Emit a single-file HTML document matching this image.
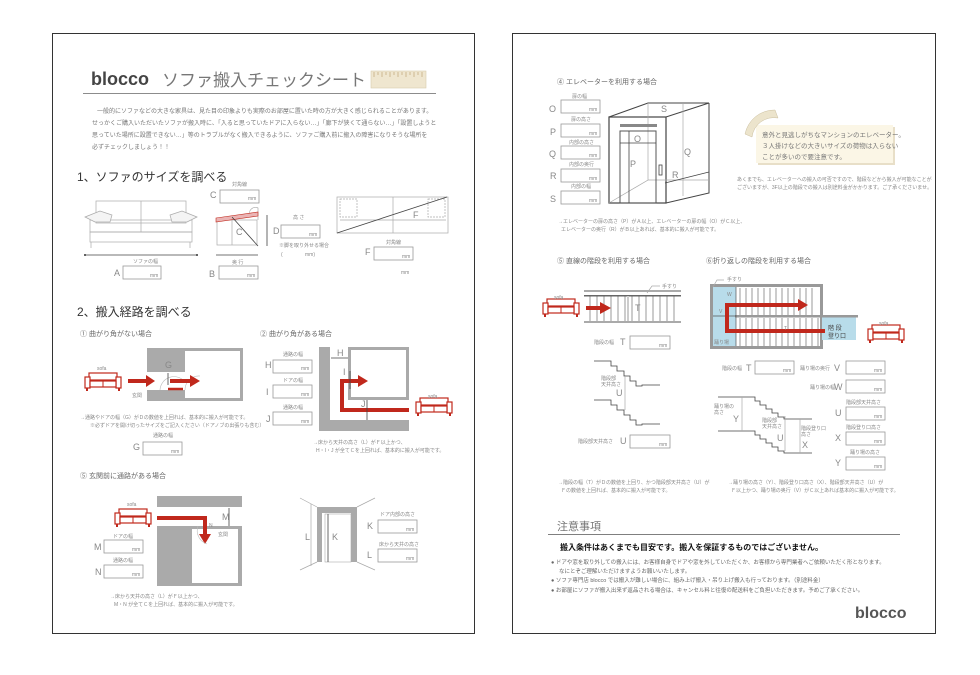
<!DOCTYPE html>
<html><head><meta charset="utf-8">
<style>
html,body{margin:0;padding:0;background:#fff;}
svg{display:block;font-family:"Liberation Sans","Noto Sans CJK JP",sans-serif;}
.t{fill:#777;font-size:6px;}
.s{fill:#888;font-size:5px;}
.l{fill:#888;font-size:9px;}
.h{fill:#333;font-size:12px;}
.sub{fill:#666;font-size:7px;}
.bx{fill:#fff;stroke:#999;stroke-width:0.8;}
.ln{stroke:#aaa;stroke-width:0.7;fill:none;}
.dk{stroke:#444;stroke-width:0.8;fill:none;}
.red{stroke:#c0281c;fill:none;stroke-width:4;}
</style></head><body>
<svg width="980" height="675" viewBox="0 0 980 675" xmlns="http://www.w3.org/2000/svg">
<defs>
<g id="sofa">
<rect x="4" y="0" width="28" height="7" fill="#fff" stroke="#c0281c" stroke-width="1.2"/>
<rect x="0" y="4" width="5" height="11" fill="#fff" stroke="#c0281c" stroke-width="1.2"/>
<rect x="31" y="4" width="5" height="11" fill="#fff" stroke="#c0281c" stroke-width="1.2"/>
<rect x="5" y="8" width="26" height="6" fill="#fff" stroke="#c0281c" stroke-width="1.2"/>
<line x1="18" y1="8" x2="18" y2="14" stroke="#c0281c" stroke-width="1"/>
<rect x="1" y="15" width="2" height="3" fill="#c0281c"/><rect x="33" y="15" width="2" height="3" fill="#c0281c"/>
</g>
</defs>

<rect x="52.5" y="33.5" width="422" height="600" fill="#fff" stroke="#333" stroke-width="1"/>
<rect x="512.5" y="33.5" width="423" height="600" fill="#fff" stroke="#333" stroke-width="1"/>

<!-- ===== LEFT PAGE ===== -->
<text x="91" y="85" font-size="18" font-weight="bold" fill="#444">blocco</text>
<text x="162" y="86" font-size="17" fill="#777">ソファ搬入チェックシート</text>
<rect x="371" y="71" width="55" height="17" fill="#efe6cf" stroke="#d8ccae" stroke-width="0.6"/>
<path d="M374 72v5M378 72v3M382 72v5M386 72v3M390 72v5M394 72v3M398 72v5M402 72v3M406 72v5M410 72v3M414 72v5M418 72v3M422 72v5" stroke="#b59a6a" stroke-width="0.6"/>
<line x1="83" y1="93.5" x2="436" y2="93.5" stroke="#666" stroke-width="0.8"/>
<text class="t" x="97" y="113">一般的にソファなどの大きな家具は、見た目の印象よりも実際のお部屋に置いた時の方が大きく感じられることがあります。</text>
<text class="t" x="92" y="125">せっかくご購入いただいたソファが搬入時に、「入ると思っていたドアに入らない…」「廊下が狭くて通らない…」「設置しようと</text>
<text class="t" x="92" y="137">思っていた場所に設置できない…」等のトラブルがなく搬入できるように、ソファご購入前に搬入の障害になりそうな場所を</text>
<text class="t" x="92" y="149">必ずチェックしましょう！！</text>

<text class="h" x="77" y="181">1、ソファのサイズを調べる</text>
<g class="ln">
<rect x="96" y="201" width="90" height="22"/><line x1="141" y1="201" x2="141" y2="232"/>
<rect x="90" y="220" width="102" height="12"/><rect x="90" y="232" width="102" height="10"/>
<path d="M85 217 L100 211 L112 215 L110 222 L95 222 Z" fill="#f4f4f4"/>
<path d="M197 217 L182 211 L170 215 L172 222 L187 222 Z" fill="#f4f4f4"/>
<line x1="91" y1="242" x2="91" y2="248"/><line x1="190" y1="242" x2="190" y2="248"/>
<rect x="217" y="220" width="40" height="25"/><line x1="232" y1="216" x2="232" y2="245"/>
<path d="M250 216 A6 6 0 0 1 258 208 V220"/>
</g>
<line x1="85" y1="255" x2="197" y2="255" class="dk"/><circle cx="85" cy="255" r="1" fill="#333"/><circle cx="197" cy="255" r="1" fill="#333"/>
<text class="s" x="133" y="263">ソファの幅</text>
<text class="l" x="114" y="276">A</text><rect class="bx" x="123" y="266" width="38" height="13"/><text class="s" x="150" y="277">mm</text>
<path d="M216 218 L258 212 L258 216 L216 222 Z" fill="#eab4b4" stroke="#c0281c" stroke-width="0.6"/>
<line x1="232" y1="217" x2="258" y2="246" class="dk"/>
<text class="l" x="236" y="235">C</text>
<line x1="216" y1="255" x2="258" y2="255" class="dk"/>
<line x1="267" y1="215" x2="267" y2="246" class="dk"/>
<text class="s" x="232" y="186">対角線</text>
<text class="l" x="210" y="198">C</text><rect class="bx" x="220" y="190" width="39" height="13"/><text class="s" x="248" y="200">mm</text>
<text class="s" x="232" y="264">奥 行</text>
<text class="l" x="209" y="277">B</text><rect class="bx" x="219" y="266" width="39" height="13"/><text class="s" x="247" y="277">mm</text>
<text class="s" x="293" y="219">高 さ</text>
<text class="l" x="273" y="234">D</text><rect class="bx" x="281" y="225" width="39" height="13"/><text class="s" x="309" y="236">mm</text>
<text class="s" x="279" y="247" font-size="4">※脚を取り外せる場合</text>
<text class="s" x="281" y="256">(</text><text class="s" x="305" y="256">mm)</text>
<g class="ln">
<rect x="337" y="197" width="111" height="36"/><line x1="393" y1="197" x2="393" y2="233"/>
<line x1="340" y1="220" x2="446" y2="220"/>
<rect x="340" y="199" width="17" height="18" stroke-dasharray="2 1"/><rect x="428" y="199" width="17" height="18" stroke-dasharray="2 1"/>
</g>
<line x1="337" y1="233" x2="447" y2="197" class="dk"/>
<text class="l" x="413" y="218">F</text>
<text class="s" x="386" y="244">対角線</text>
<text class="l" x="365" y="255">F</text><rect class="bx" x="374" y="247" width="39" height="13"/><text class="s" x="402" y="258">mm</text>
<text class="s" x="401" y="274">mm</text>

<text class="h" x="77" y="316">2、搬入経路を調べる</text>

<text class="sub" x="80" y="336">①  曲がり角がない場合</text>
<rect x="147" y="348" width="96" height="53" fill="#aaa"/>
<rect x="185" y="351" width="55" height="47" fill="#fff"/>
<rect x="147" y="372" width="38" height="18" fill="#fff"/>
<path d="M160 390 A14 14 0 0 1 185 382" stroke="#bbb" fill="none" stroke-width="0.6"/>
<path d="M185 390 A14 14 0 0 1 200 376" stroke="#bbb" fill="none" stroke-width="0.6"/>
<use href="#sofa" x="85" y="373"/>
<text class="s" x="97" y="370" font-size="6" fill="#999">sofa</text>
<path d="M128 381 H148" class="red"/><path d="M146 375 L155 381 L146 387Z" fill="#c0281c"/>
<path d="M170 381 H192" class="red"/><path d="M190 375 L200 381 L190 387Z" fill="#c0281c"/>
<path d="M168 389 H183" stroke="#c0281c" stroke-width="2.5"/>
<line x1="168" y1="373" x2="168" y2="385" class="dk"/>
<text class="l" x="165" y="368">G</text>
<text class="s" x="132" y="397">玄関</text>
<text class="s" x="80" y="419">→通路やドアの幅（G）がＤの数値を上回れば、基本的に搬入が可能です。</text>
<text class="s" x="90" y="427" fill="#c66" font-size="4">※必ずドアを開け切ったサイズをご記入ください（ドアノブの出張りも含む）</text>
<text class="s" x="153" y="437">通路の幅</text>
<text class="l" x="133" y="450">G</text><rect class="bx" x="143" y="442" width="39" height="13"/><text class="s" x="171" y="453">mm</text>

<text class="sub" x="260" y="336">②  曲がり角がある場合</text>
<rect x="319" y="347" width="90" height="84" fill="#aaa"/>
<rect x="330" y="347" width="79" height="73" fill="#fff"/>
<rect x="348" y="347" width="61" height="53" fill="#aaa"/>
<rect x="351" y="350" width="55" height="47" fill="#fff"/>
<path d="M409 410 H342 V381 H360" class="red"/><path d="M358 375 L368 381 L358 387Z" fill="#c0281c"/>
<line x1="331" y1="358" x2="348" y2="358" class="dk"/><line x1="350" y1="371" x2="350" y2="389" class="dk"/><line x1="367" y1="400" x2="367" y2="420" class="dk"/>
<text class="l" x="337" y="356">H</text><text class="l" x="343" y="375">I</text><text class="l" x="361" y="407">J</text>
<use href="#sofa" x="416" y="398"/><text class="s" x="428" y="398" font-size="6" fill="#999">sofa</text>
<text class="s" x="283" y="356">通路の幅</text>
<text class="l" x="265" y="368">H</text><rect class="bx" x="273" y="360" width="39" height="13"/><text class="s" x="301" y="370">mm</text>
<text class="s" x="283" y="382">ドアの幅</text>
<text class="l" x="266" y="395">I</text><rect class="bx" x="273" y="385" width="39" height="13"/><text class="s" x="301" y="396">mm</text>
<text class="s" x="283" y="409">通路の幅</text>
<text class="l" x="266" y="422">J</text><rect class="bx" x="273" y="412" width="39" height="13"/><text class="s" x="301" y="423">mm</text>
<text class="s" x="313" y="444" font-size="4.5">→床から天井の高さ（L）がＦ以上かつ、</text>
<text class="s" x="316" y="452" font-size="4.5">H・I・J が全てＣを上回れば、基本的に搬入が可能です。</text>

<text class="sub" x="80" y="478">⑤ 玄関前に通路がある場合</text>
<rect x="157" y="496" width="85" height="90" fill="#aaa"/>
<rect x="157" y="507" width="85" height="19" fill="#fff"/>
<rect x="192" y="529" width="46" height="54" fill="#fff"/>
<path d="M157 518 H205 V535" class="red"/><path d="M199 534 L205 544 L211 534Z" fill="#c0281c"/>
<path d="M198 526 A14 14 0 0 0 207 544" stroke="#bbb" fill="none" stroke-width="0.6"/>
<line x1="229" y1="508" x2="229" y2="526" class="dk"/>
<text class="l" x="222" y="520">M</text><text class="s" x="209" y="527" font-size="7">N</text><text class="s" x="218" y="536" font-size="4">玄関</text>
<use href="#sofa" x="115" y="509"/><text class="s" x="127" y="506" font-size="6" fill="#999">sofa</text>
<text class="s" x="113" y="538">ドアの幅</text>
<text class="l" x="94" y="550">M</text><rect class="bx" x="104" y="540" width="39" height="13"/><text class="s" x="132" y="551">mm</text>
<text class="s" x="113" y="562">通路の幅</text>
<text class="l" x="95" y="575">N</text><rect class="bx" x="104" y="565" width="39" height="13"/><text class="s" x="132" y="576">mm</text>
<text class="s" x="110" y="598" font-size="4.5">→床から天井の高さ（L）がＦ以上かつ、</text>
<text class="s" x="114" y="606" font-size="4.5">M・N が全てＣを上回れば、基本的に搬入が可能です。</text>

<g class="ln">
<path d="M300 498 L317 507 M375 498 L357 507 M300 570 L317 562 M375 570 L357 562"/>
<line x1="311" y1="504" x2="311" y2="566"/>
</g>
<rect x="317" y="507" width="40" height="55" fill="#aaa"/>
<rect x="322" y="513" width="29" height="49" fill="#fff"/>
<rect x="325" y="514" width="26" height="48" fill="#fff" stroke="#aaa" stroke-width="0.6"/>
<line x1="328" y1="514" x2="328" y2="562" class="dk"/>
<text class="l" x="305" y="540">L</text><text class="l" x="332" y="540">K</text>
<text class="s" x="380" y="516">ドア内部の高さ</text>
<text class="l" x="367" y="529">K</text><rect class="bx" x="378" y="520" width="39" height="13"/><text class="s" x="406" y="531">mm</text>
<text class="s" x="379" y="546">床から天井の高さ</text>
<text class="l" x="367" y="558">L</text><rect class="bx" x="378" y="549" width="39" height="13"/><text class="s" x="406" y="560">mm</text>

<!-- ===== RIGHT PAGE ===== -->
<text class="sub" x="557" y="84">④ エレベーターを利用する場合</text>
<g>
<text class="s" x="572" y="98">扉の幅</text><text class="l" x="549" y="112">O</text><rect class="bx" x="561" y="100" width="39" height="13"/><text class="s" x="589" y="111">mm</text>
<text class="s" x="571" y="121">扉の高さ</text><text class="l" x="550" y="135">P</text><rect class="bx" x="561" y="124" width="39" height="13"/><text class="s" x="589" y="135">mm</text>
<text class="s" x="569" y="144">内部の高さ</text><text class="l" x="549" y="157">Q</text><rect class="bx" x="561" y="146" width="39" height="13"/><text class="s" x="589" y="157">mm</text>
<text class="s" x="569" y="166">内部の奥行</text><text class="l" x="550" y="179">R</text><rect class="bx" x="561" y="169" width="39" height="13"/><text class="s" x="589" y="180">mm</text>
<text class="s" x="571" y="188">内部の幅</text><text class="l" x="550" y="202">S</text><rect class="bx" x="561" y="191" width="39" height="13"/><text class="s" x="589" y="202">mm</text>
</g>
<g>
<path d="M609 117 L648 103 L709 103 L666 117 Z M666 117 L666 203 L709 193 L709 103" stroke="#444" stroke-width="1" fill="#fff"/>
<rect x="609" y="117" width="57" height="86" fill="#fff" stroke="#444" stroke-width="1.2"/>
<path d="M648 103 V180 L609 203 M648 180 H709 M683 103 V196" class="ln"/>
<rect x="620" y="124" width="37" height="3" fill="#888"/>
<rect x="620" y="131" width="36" height="72" fill="none" stroke="#555" stroke-width="1"/>
<line x1="620" y1="143" x2="656" y2="143" class="dk"/><line x1="629" y1="131" x2="629" y2="203" class="dk"/>
<rect x="659" y="165" width="3" height="10" fill="#fff" stroke="#444" stroke-width="0.8"/>
<line x1="665" y1="183" x2="709" y2="172" class="dk"/>
<text class="l" x="634" y="142">O</text><text class="l" x="630" y="167">P</text><text class="l" x="684" y="155">Q</text><text class="l" x="672" y="178">R</text><text class="l" x="661" y="112">S</text>
</g>
<rect x="758" y="127" width="137" height="38" fill="#e8dfc8"/>
<rect x="756" y="125" width="137" height="38" fill="#fbf6e6"/>
<path d="M745 134 A30 30 0 0 1 775 110 L778 118 A22 22 0 0 0 752 137Z" fill="#ece4cc" stroke="#cbbf9f" stroke-width="0.5"/>
<text x="762" y="137" font-size="6.5" fill="#777">意外と見逃しがちなマンションのエレベーター。</text>
<text x="762" y="148" font-size="6.5" fill="#777">３人掛けなどの大きいサイズの荷物は入らない</text>
<text x="762" y="159" font-size="6.5" fill="#777">ことが多いので要注意です。</text>
<text class="s" x="737" y="181" font-size="4.5">あくまでも、エレベーターへの搬入の可否ですので、階段などから搬入が可能なことが</text>
<text class="s" x="737" y="189" font-size="4.5">ございますが、3F以上の階段での搬入は別途料金がかかります。ご了承くださいませ。</text>
<text class="s" x="558" y="223" font-size="4.5">→エレベーターの扉の高さ（P）がＡ以上、エレベーターの扉の幅（O）がＣ以上、</text>
<text class="s" x="561" y="231" font-size="4.5">エレベーターの奥行（R）がＢ以上あれば、基本的に搬入が可能です。</text>

<text class="sub" x="557" y="263">⑤ 直線の階段を利用する場合</text>
<text class="sub" x="706" y="263">⑥折り返しの階段を利用する場合</text>

<rect x="584" y="290" width="97" height="2" fill="#aaa"/>
<rect x="584" y="295" width="97" height="1.5" fill="#666"/>
<rect x="584" y="321" width="97" height="2" fill="#aaa"/>
<path d="M590 296V321M597 296V321M604 296V321M611 296V321M618 296V321M625 296V321M632 296V321M639 296V321M646 296V321M653 296V321M660 296V321M667 296V321M674 296V321" stroke="#555" stroke-width="0.6"/>
<line x1="628" y1="296" x2="628" y2="321" stroke="#ccc" stroke-width="2"/>
<path d="M647 293 L652 286 H660" class="ln"/><text class="s" x="662" y="288">手すり</text>
<text class="l" x="635" y="311">T</text>
<use href="#sofa" x="543" y="299"/><text class="s" x="554" y="299" font-size="6" fill="#999">sofa</text>
<path d="M586 308 H602" class="red"/><path d="M600 302 L611 308 L600 314Z" fill="#c0281c"/>
<text class="s" x="594" y="344">階段の幅</text><text class="l" x="620" y="345">T</text><rect class="bx" x="630" y="336" width="40" height="13"/><text class="s" x="659" y="347">mm</text>
<path d="M594 361 H611 V366 H617 V371 H624 V376 H630 V381 H636 V386 H642 V385 H660" class="dk" stroke-width="0.6"/>
<path d="M594 400 H611 V405 H617 V410 H624 V415 H630 V420 H636 V425 H642 V424 H660" class="dk" stroke-width="0.6"/>
<line x1="625" y1="375" x2="625" y2="410" class="ln"/>
<text class="s" x="601" y="380">階段部</text><text class="s" x="601" y="386">天井高さ</text><text class="l" x="616" y="396">U</text>
<text class="s" x="578" y="443">階段部天井高さ</text><text class="l" x="620" y="444">U</text><rect class="bx" x="630" y="435" width="40" height="13"/><text class="s" x="659" y="446">mm</text>
<text class="s" x="558" y="484" font-size="4.5">→階段の幅（T）がＤの数値を上回り、かつ階段部天井高さ（U）が</text>
<text class="s" x="561" y="492" font-size="4.5">Ｆの数値を上回れば、基本的に搬入が可能です。</text>

<rect x="710" y="284" width="113" height="65" fill="#999"/>
<rect x="713" y="287" width="107" height="59" fill="#fff"/>
<rect x="713" y="287" width="23" height="59" fill="#b8dcea"/>
<rect x="822" y="316" width="34" height="24" fill="#b8dcea"/>
<rect x="735" y="315" width="123" height="2.5" fill="#999"/>
<path d="M740 288V315M746 288V315M752 288V315M758 288V315M764 288V315M770 288V315M776 288V315M782 288V315M788 288V315M794 288V315M800 288V315M806 288V315M812 288V315 M740 318V346M746 318V346M752 318V346M758 318V346M764 318V346M770 318V346M776 318V346M782 318V346M788 318V346M794 318V346M800 318V346M806 318V346M812 318V346M818 318V346" stroke="#555" stroke-width="0.6"/>
<line x1="736" y1="287" x2="736" y2="346" stroke="#555" stroke-width="0.7"/>
<line x1="713" y1="316" x2="736" y2="316" stroke="#555" stroke-width="0.7"/>
<path d="M825 331 H727 V305 H800" class="red"/><path d="M798 299 L808 305 L798 311Z" fill="#c0281c"/>
<text class="s" x="727" y="296" font-size="6">W</text><text class="s" x="719" y="313" font-size="6">V</text><text class="s" x="784" y="330" font-size="6">T</text>
<text class="s" x="714" y="344" fill="#444">踊り場</text>
<text x="828" y="330" font-size="6" fill="#444">階 段</text><text x="828" y="338" font-size="6" fill="#444">登り口</text>
<path d="M713 287 L717 280 H724" class="ln"/><text class="s" x="727" y="281">手すり</text>
<use href="#sofa" x="868" y="325"/><text class="s" x="879" y="325" font-size="6" fill="#999">sofa</text>
<text class="s" x="722" y="370">階段の幅</text><text class="l" x="746" y="371">T</text><rect class="bx" x="755" y="361" width="39" height="13"/><text class="s" x="783" y="372">mm</text>
<text class="s" x="800" y="370">踊り場の奥行</text><text class="l" x="834" y="371">V</text><rect class="bx" x="846" y="361" width="39" height="13"/><text class="s" x="874" y="372">mm</text>
<text class="s" x="810" y="389">踊り場の幅</text><text class="l" x="834" y="390">W</text><rect class="bx" x="846" y="380" width="39" height="13"/><text class="s" x="874" y="391">mm</text>
<text class="s" x="846" y="404">階段部天井高さ</text><text class="l" x="835" y="416">U</text><rect class="bx" x="846" y="407" width="39" height="13"/><text class="s" x="874" y="418">mm</text>
<text class="s" x="846" y="429">階段登り口高さ</text><text class="l" x="835" y="441">X</text><rect class="bx" x="846" y="432" width="39" height="13"/><text class="s" x="874" y="443">mm</text>
<text class="s" x="850" y="454">踊り場の高さ</text><text class="l" x="835" y="466">Y</text><rect class="bx" x="846" y="457" width="39" height="13"/><text class="s" x="874" y="468">mm</text>
<path d="M718 397 H755 V401 H760 V405 H766 V409 H772 V413 H778 V417 H784 V419 H812" class="dk" stroke-width="0.6"/>
<path d="M718 431 H755 V435 H760 V439 H766 V443 H772 V447 H778 V451 H784 V453 H812" class="dk" stroke-width="0.6"/>
<line x1="742" y1="397" x2="742" y2="431" class="ln"/><line x1="785" y1="416" x2="785" y2="451" class="ln"/><line x1="800" y1="419" x2="800" y2="453" class="ln"/>
<text class="s" x="714" y="408">踊り場の</text><text class="s" x="714" y="414">高さ</text><text class="l" x="733" y="422">Y</text>
<text class="s" x="762" y="422">階段部</text><text class="s" x="762" y="428">天井高さ</text><text class="l" x="777" y="441">U</text>
<text class="s" x="801" y="430">階段登り口</text><text class="s" x="801" y="436">高さ</text><text class="l" x="802" y="448">X</text>
<text class="s" x="728" y="484" font-size="4.5">→踊り場の高さ（Y）、階段登り口高さ（X）、階段部天井高さ（U）が</text>
<text class="s" x="731" y="492" font-size="4.5">Ｆ以上かつ、踊り場の奥行（V）がＣ以上あれば基本的に搬入が可能です。</text>

<text x="557" y="530" font-size="11" fill="#777">注意事項</text>
<line x1="548" y1="534.5" x2="900" y2="534.5" stroke="#555" stroke-width="0.8"/>
<text x="560" y="550" font-size="8" font-weight="bold" fill="#111">搬入条件はあくまでも目安です。搬入を保証するものではございません。</text>
<g font-size="5.5" fill="#666">
<text x="551" y="564">● ドアや窓を取り外しての搬入には、お客様自身でドアや窓を外していただくか、お客様から専門業者へご依頼いただく形となります。</text>
<text x="559" y="573">なにとぞご理解いただけますようお願いいたします。</text>
<text x="551" y="582">● ソファ専門店 blocco では搬入が難しい場合に、組み上げ搬入・吊り上げ搬入も行っております。（別途料金）</text>
<text x="551" y="592">● お部屋にソファが搬入出来ず返品される場合は、キャンセル料と往復の配送料をご負担いただきます。予めご了承ください。</text>
</g>
<text x="855" y="618" font-size="16" font-weight="bold" fill="#555">blocco</text>
</svg>
</body></html>
